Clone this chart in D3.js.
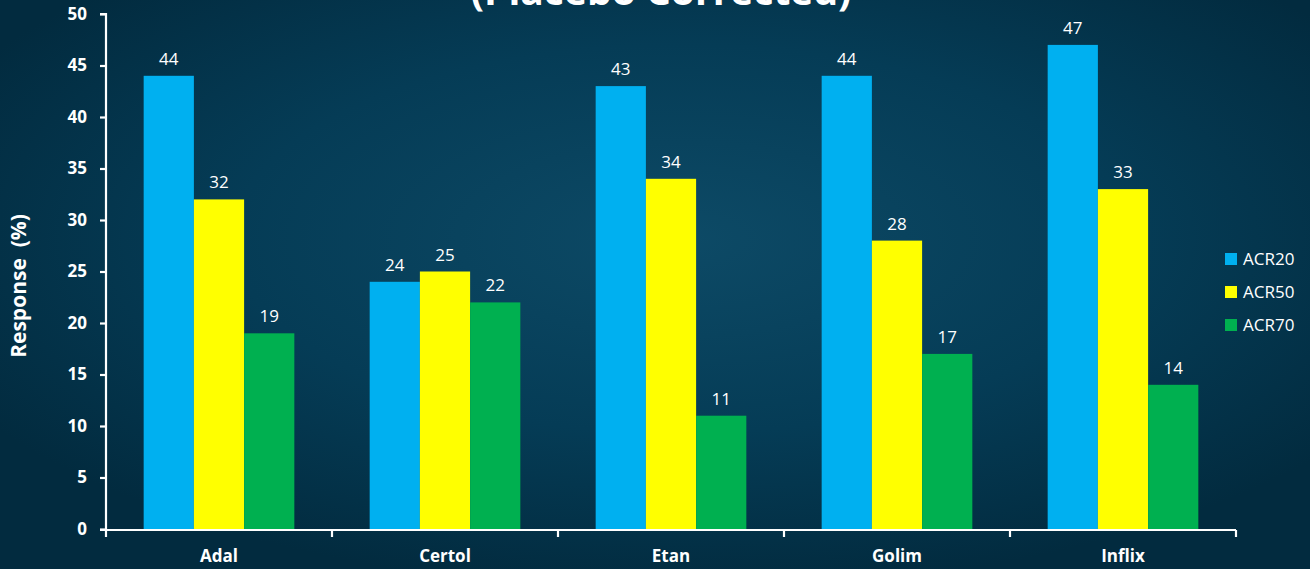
<!DOCTYPE html>
<html>
<head>
<meta charset="utf-8">
<script src="https://cdn.jsdelivr.net/npm/d3@7"></script>
<style>
  html, body { margin: 0; padding: 0; background: #03304a; }
  svg { display: block; }
  text { font-family: "Open Sans", "Noto Sans", sans-serif; fill: #ffffff; }
</style>
</head>
<body>
<svg id="chart" width="1310" height="569"></svg>
<script>
// Response rates by drug (placebo corrected)
const categories = ["Adal", "Certol", "Etan", "Golim", "Inflix"];
const seriesNames = ["ACR20", "ACR50", "ACR70"];
const acr20 = [44, 24, 43, 44, 47];
const acr50 = [32, 25, 34, 28, 33];
const acr70 = [19, 22, 11, 17, 14];
const yTicks = [0, 5, 10, 15, 20, 25, 30, 35, 40, 45, 50];
const seriesColors = ["#00B0F0", "#FFFF00", "#00B050"];

const seriesValues = [acr20, acr50, acr70];
const rows = categories.map((c, i) => ({
  category: c,
  values: seriesNames.map((s, j) => ({ series: s, value: seriesValues[j][i] }))
}));

const W = 1310, H = 569;
const margin = { left: 106, right: 74, top: 14, bottom: 40 };
const svg = d3.select("#chart");

// Background glow
const defs = svg.append("defs");
const grad = defs.append("radialGradient")
  .attr("id", "bg").attr("cx", "52%").attr("cy", "42%").attr("r", "62%");
grad.append("stop").attr("offset", "0%").attr("stop-color", "#0d4a66");
grad.append("stop").attr("offset", "55%").attr("stop-color", "#053c56");
grad.append("stop").attr("offset", "100%").attr("stop-color", "#022b3f");
svg.append("rect").attr("width", W).attr("height", H).attr("fill", "url(#bg)");

const x0 = d3.scaleBand()
  .domain(categories)
  .range([margin.left, W - margin.right])
  .padding(0);
const groupW = x0.bandwidth() * 2 / 3;
const x1 = d3.scaleBand()
  .domain(seriesNames)
  .range([0, groupW])
  .padding(0);
const y = d3.scaleLinear().domain([0, 50]).range([H - margin.bottom, margin.top]);

// Title (upper line runs above the frame)
svg.append("text")
  .attr("x", 661).attr("y", 5)
  .attr("text-anchor", "middle")
  .style("font-size", "39px").style("font-weight", "700")
  .text("(Placebo Corrected)");

// Bars
const groups = svg.append("g").selectAll("g")
  .data(rows).join("g")
  .attr("transform", d => `translate(${x0(d.category) + (x0.bandwidth() - groupW) / 2},0)`);

groups.selectAll("rect")
  .data(d => d.values).join("rect")
  .attr("x", d => x1(d.series))
  .attr("y", d => y(d.value))
  .attr("width", x1.bandwidth())
  .attr("height", d => y(0) - y(d.value))
  .attr("fill", (d, i) => seriesColors[i]);

groups.selectAll("text.val")
  .data(d => d.values).join("text")
  .attr("class", "val")
  .attr("x", d => x1(d.series) + x1.bandwidth() / 2)
  .attr("y", d => y(d.value) - 11)
  .attr("text-anchor", "middle")
  .style("font-size", "17px")
  .text(d => d.value);

// Y axis
const yAxis = svg.append("g")
  .attr("transform", `translate(${margin.left},0)`)
  .call(d3.axisLeft(y).tickValues(yTicks).tickSize(6).tickPadding(13));
yAxis.select(".domain").attr("stroke", "#ffffff").attr("stroke-width", 2.2)
  .attr("d", `M-6,${y(50)}H0V${y(0)}`);
yAxis.selectAll(".tick line").attr("stroke", "#ffffff").attr("stroke-width", 2.2);
yAxis.selectAll(".tick text")
  .style("font-size", "17px").style("font-weight", "700")
  .attr("fill", "#ffffff");

// X axis with ticks on category boundaries
const xAxisG = svg.append("g").attr("transform", `translate(0,${y(0) + 1})`);
xAxisG.append("line")
  .attr("x1", margin.left - 6).attr("x2", x0.range()[1])
  .attr("stroke", "#ffffff").attr("stroke-width", 2.2);
const bounds = categories.map(c => x0(c)).concat([x0.range()[1]]);
xAxisG.selectAll("line.b").data(bounds).join("line")
  .attr("class", "b")
  .attr("x1", d => d).attr("x2", d => d)
  .attr("y1", 0).attr("y2", 7)
  .attr("stroke", "#ffffff").attr("stroke-width", 2.2);
xAxisG.selectAll("text").data(categories).join("text")
  .attr("x", d => x0(d) + x0.bandwidth() / 2)
  .attr("y", 32)
  .attr("text-anchor", "middle")
  .style("font-size", "17px").style("font-weight", "700")
  .text(d => d);

// Y axis title
svg.append("text")
  .attr("transform", `translate(26,286) rotate(-90)`)
  .attr("text-anchor", "middle")
  .style("font-size", "21px").style("font-weight", "700")
  .style("white-space", "pre")
  .attr("xml:space", "preserve")
  .text("Response  (%)");

// Legend
const legend = svg.append("g").selectAll("g")
  .data(seriesNames).join("g")
  .attr("transform", (d, i) => `translate(1225,${253 + i * 33})`);
legend.append("rect")
  .attr("width", 12).attr("height", 12)
  .attr("fill", (d, i) => seriesColors[i]);
legend.append("text")
  .attr("x", 18).attr("y", 12)
  .style("font-size", "17px")
  .text(d => d);
</script>
</body>
</html>
